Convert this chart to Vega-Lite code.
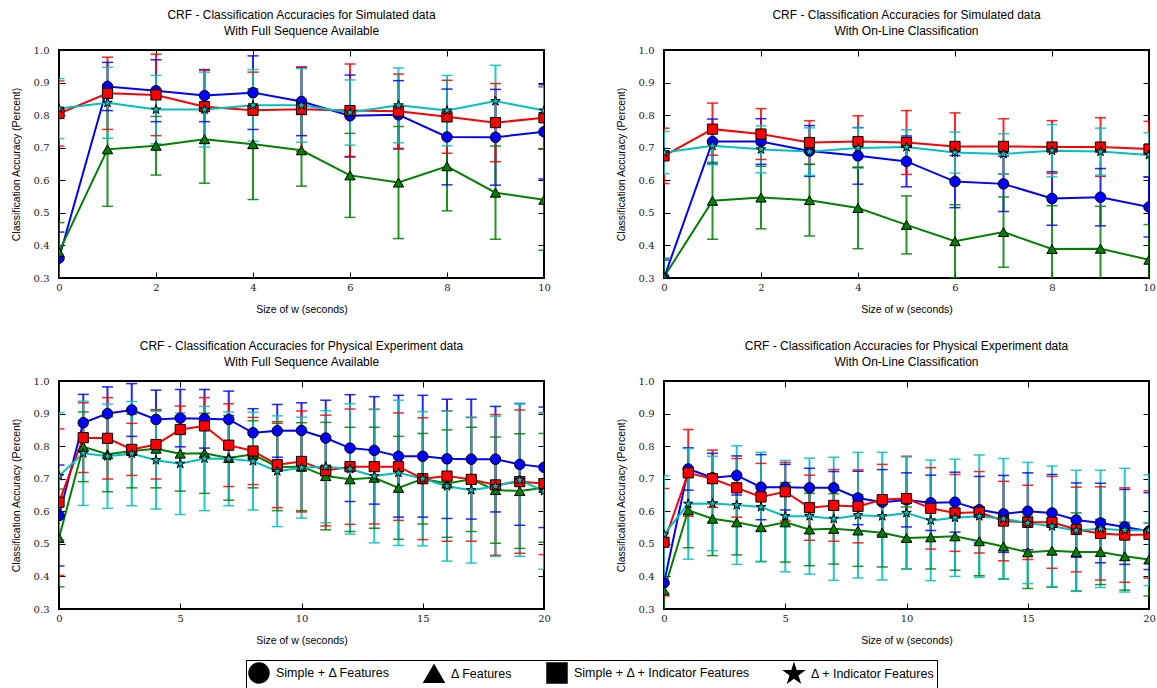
{
  "$schema": "https://vega.github.io/schema/vega-lite/v6.json",
  "padding": {"left": 10, "top": 8, "right": 5, "bottom": 1},
  "spacing": 23,
  "config": {
    "view": {"stroke": "black", "strokeWidth": 2},
    "axis": {"grid": false, "domain": false, "tickColor": "black", "tickSize": -6, "tickWidth": 1, "labelFont": "DejaVu Serif", "labelFontSize": 10, "labelColor": "#222", "labelFlush": false, "titleFont": "Liberation Sans", "titleFontSize": 10.5, "titleFontWeight": "normal", "titleColor": "black"},
    "axisX": {"labelPadding": 10, "titlePadding": 12},
    "axisY": {"labelPadding": 16, "titlePadding": 12},
    "title": {"font": "Liberation Sans", "fontSize": 12, "fontWeight": "normal", "color": "black", "offset": 7, "lineHeight": 16, "anchor": "middle"},
    "legend": {"labelFont": "Liberation Sans", "labelFontSize": 12.5, "labelColor": "black", "labelLimit": 400}
  },
  "datasets": {
    "acc": [
      {"p":1,"s":"a","x":0,"y":0.361,"lo":0.281,"hi":0.441},
      {"p":1,"s":"a","x":1,"y":0.888,"lo":0.814,"hi":0.962},
      {"p":1,"s":"a","x":2,"y":0.875,"lo":0.78,"hi":0.97},
      {"p":1,"s":"a","x":3,"y":0.86,"lo":0.78,"hi":0.94},
      {"p":1,"s":"a","x":4,"y":0.869,"lo":0.756,"hi":0.982},
      {"p":1,"s":"a","x":5,"y":0.842,"lo":0.737,"hi":0.947},
      {"p":1,"s":"a","x":6,"y":0.798,"lo":0.673,"hi":0.923},
      {"p":1,"s":"a","x":7,"y":0.801,"lo":0.696,"hi":0.906},
      {"p":1,"s":"a","x":8,"y":0.733,"lo":0.586,"hi":0.88},
      {"p":1,"s":"a","x":9,"y":0.732,"lo":0.585,"hi":0.879},
      {"p":1,"s":"a","x":10,"y":0.749,"lo":0.604,"hi":0.894},
      {"p":1,"s":"b","x":0,"y":0.38,"lo":0.29,"hi":0.47},
      {"p":1,"s":"b","x":1,"y":0.695,"lo":0.52,"hi":0.87},
      {"p":1,"s":"b","x":2,"y":0.706,"lo":0.616,"hi":0.796},
      {"p":1,"s":"b","x":3,"y":0.726,"lo":0.591,"hi":0.861},
      {"p":1,"s":"b","x":4,"y":0.711,"lo":0.541,"hi":0.881},
      {"p":1,"s":"b","x":5,"y":0.692,"lo":0.582,"hi":0.802},
      {"p":1,"s":"b","x":6,"y":0.615,"lo":0.486,"hi":0.744},
      {"p":1,"s":"b","x":7,"y":0.593,"lo":0.421,"hi":0.765},
      {"p":1,"s":"b","x":8,"y":0.643,"lo":0.506,"hi":0.78},
      {"p":1,"s":"b","x":9,"y":0.562,"lo":0.419,"hi":0.705},
      {"p":1,"s":"b","x":10,"y":0.54,"lo":0.385,"hi":0.695},
      {"p":1,"s":"c","x":0,"y":0.805,"lo":0.705,"hi":0.905},
      {"p":1,"s":"c","x":1,"y":0.867,"lo":0.756,"hi":0.978},
      {"p":1,"s":"c","x":2,"y":0.862,"lo":0.737,"hi":0.987},
      {"p":1,"s":"c","x":3,"y":0.826,"lo":0.714,"hi":0.938},
      {"p":1,"s":"c","x":4,"y":0.815,"lo":0.698,"hi":0.932},
      {"p":1,"s":"c","x":5,"y":0.818,"lo":0.688,"hi":0.948},
      {"p":1,"s":"c","x":6,"y":0.814,"lo":0.671,"hi":0.957},
      {"p":1,"s":"c","x":7,"y":0.812,"lo":0.698,"hi":0.926},
      {"p":1,"s":"c","x":8,"y":0.795,"lo":0.683,"hi":0.907},
      {"p":1,"s":"c","x":9,"y":0.777,"lo":0.657,"hi":0.897},
      {"p":1,"s":"c","x":10,"y":0.792,"lo":0.697,"hi":0.887},
      {"p":1,"s":"d","x":0,"y":0.82,"lo":0.728,"hi":0.912},
      {"p":1,"s":"d","x":1,"y":0.838,"lo":0.729,"hi":0.947},
      {"p":1,"s":"d","x":2,"y":0.817,"lo":0.712,"hi":0.922},
      {"p":1,"s":"d","x":3,"y":0.817,"lo":0.702,"hi":0.932},
      {"p":1,"s":"d","x":4,"y":0.83,"lo":0.72,"hi":0.94},
      {"p":1,"s":"d","x":5,"y":0.83,"lo":0.717,"hi":0.943},
      {"p":1,"s":"d","x":6,"y":0.808,"lo":0.708,"hi":0.908},
      {"p":1,"s":"d","x":7,"y":0.83,"lo":0.715,"hi":0.945},
      {"p":1,"s":"d","x":8,"y":0.814,"lo":0.706,"hi":0.922},
      {"p":1,"s":"d","x":9,"y":0.843,"lo":0.733,"hi":0.953},
      {"p":1,"s":"d","x":10,"y":0.814,"lo":0.739,"hi":0.889},

      {"p":2,"s":"a","x":0,"y":0.30,"lo":0.245,"hi":0.355},
      {"p":2,"s":"a","x":1,"y":0.719,"lo":0.65,"hi":0.788},
      {"p":2,"s":"a","x":2,"y":0.719,"lo":0.649,"hi":0.789},
      {"p":2,"s":"a","x":3,"y":0.69,"lo":0.612,"hi":0.768},
      {"p":2,"s":"a","x":4,"y":0.675,"lo":0.588,"hi":0.762},
      {"p":2,"s":"a","x":5,"y":0.658,"lo":0.58,"hi":0.736},
      {"p":2,"s":"a","x":6,"y":0.596,"lo":0.516,"hi":0.676},
      {"p":2,"s":"a","x":7,"y":0.589,"lo":0.504,"hi":0.674},
      {"p":2,"s":"a","x":8,"y":0.544,"lo":0.462,"hi":0.626},
      {"p":2,"s":"a","x":9,"y":0.548,"lo":0.46,"hi":0.636},
      {"p":2,"s":"a","x":10,"y":0.518,"lo":0.426,"hi":0.61},
      {"p":2,"s":"b","x":0,"y":0.303,"lo":0.245,"hi":0.361},
      {"p":2,"s":"b","x":1,"y":0.537,"lo":0.419,"hi":0.655},
      {"p":2,"s":"b","x":2,"y":0.547,"lo":0.451,"hi":0.643},
      {"p":2,"s":"b","x":3,"y":0.539,"lo":0.429,"hi":0.649},
      {"p":2,"s":"b","x":4,"y":0.515,"lo":0.39,"hi":0.64},
      {"p":2,"s":"b","x":5,"y":0.463,"lo":0.374,"hi":0.552},
      {"p":2,"s":"b","x":6,"y":0.413,"lo":0.301,"hi":0.525},
      {"p":2,"s":"b","x":7,"y":0.441,"lo":0.333,"hi":0.549},
      {"p":2,"s":"b","x":8,"y":0.389,"lo":0.256,"hi":0.522},
      {"p":2,"s":"b","x":9,"y":0.39,"lo":0.26,"hi":0.52},
      {"p":2,"s":"b","x":10,"y":0.356,"lo":0.248,"hi":0.464},
      {"p":2,"s":"c","x":0,"y":0.675,"lo":0.59,"hi":0.76},
      {"p":2,"s":"c","x":1,"y":0.757,"lo":0.677,"hi":0.837},
      {"p":2,"s":"c","x":2,"y":0.742,"lo":0.664,"hi":0.82},
      {"p":2,"s":"c","x":3,"y":0.716,"lo":0.649,"hi":0.783},
      {"p":2,"s":"c","x":4,"y":0.719,"lo":0.64,"hi":0.798},
      {"p":2,"s":"c","x":5,"y":0.716,"lo":0.618,"hi":0.814},
      {"p":2,"s":"c","x":6,"y":0.704,"lo":0.601,"hi":0.807},
      {"p":2,"s":"c","x":7,"y":0.704,"lo":0.619,"hi":0.789},
      {"p":2,"s":"c","x":8,"y":0.702,"lo":0.621,"hi":0.783},
      {"p":2,"s":"c","x":9,"y":0.702,"lo":0.612,"hi":0.792},
      {"p":2,"s":"c","x":10,"y":0.696,"lo":0.611,"hi":0.781},
      {"p":2,"s":"d","x":0,"y":0.685,"lo":0.62,"hi":0.75},
      {"p":2,"s":"d","x":1,"y":0.706,"lo":0.648,"hi":0.764},
      {"p":2,"s":"d","x":2,"y":0.695,"lo":0.623,"hi":0.767},
      {"p":2,"s":"d","x":3,"y":0.688,"lo":0.615,"hi":0.761},
      {"p":2,"s":"d","x":4,"y":0.699,"lo":0.637,"hi":0.761},
      {"p":2,"s":"d","x":5,"y":0.702,"lo":0.649,"hi":0.755},
      {"p":2,"s":"d","x":6,"y":0.685,"lo":0.622,"hi":0.748},
      {"p":2,"s":"d","x":7,"y":0.681,"lo":0.619,"hi":0.743},
      {"p":2,"s":"d","x":8,"y":0.691,"lo":0.611,"hi":0.771},
      {"p":2,"s":"d","x":9,"y":0.688,"lo":0.616,"hi":0.76},
      {"p":2,"s":"d","x":10,"y":0.678,"lo":0.61,"hi":0.746},

      {"p":3,"s":"a","x":0,"y":0.587,"lo":0.432,"hi":0.742},
      {"p":3,"s":"a","x":1,"y":0.872,"lo":0.785,"hi":0.959},
      {"p":3,"s":"a","x":2,"y":0.90,"lo":0.818,"hi":0.982},
      {"p":3,"s":"a","x":3,"y":0.911,"lo":0.83,"hi":0.992},
      {"p":3,"s":"a","x":4,"y":0.882,"lo":0.792,"hi":0.972},
      {"p":3,"s":"a","x":5,"y":0.886,"lo":0.798,"hi":0.974},
      {"p":3,"s":"a","x":6,"y":0.884,"lo":0.794,"hi":0.974},
      {"p":3,"s":"a","x":7,"y":0.882,"lo":0.795,"hi":0.969},
      {"p":3,"s":"a","x":8,"y":0.841,"lo":0.767,"hi":0.915},
      {"p":3,"s":"a","x":9,"y":0.847,"lo":0.766,"hi":0.928},
      {"p":3,"s":"a","x":10,"y":0.848,"lo":0.763,"hi":0.933},
      {"p":3,"s":"a","x":11,"y":0.825,"lo":0.709,"hi":0.941},
      {"p":3,"s":"a","x":12,"y":0.794,"lo":0.63,"hi":0.958},
      {"p":3,"s":"a","x":13,"y":0.787,"lo":0.622,"hi":0.952},
      {"p":3,"s":"a","x":14,"y":0.769,"lo":0.582,"hi":0.956},
      {"p":3,"s":"a","x":15,"y":0.769,"lo":0.582,"hi":0.956},
      {"p":3,"s":"a","x":16,"y":0.761,"lo":0.578,"hi":0.944},
      {"p":3,"s":"a","x":17,"y":0.76,"lo":0.576,"hi":0.944},
      {"p":3,"s":"a","x":18,"y":0.76,"lo":0.598,"hi":0.922},
      {"p":3,"s":"a","x":19,"y":0.744,"lo":0.557,"hi":0.931},
      {"p":3,"s":"a","x":20,"y":0.735,"lo":0.55,"hi":0.92},
      {"p":3,"s":"b","x":0,"y":0.518,"lo":0.368,"hi":0.668},
      {"p":3,"s":"b","x":1,"y":0.798,"lo":0.691,"hi":0.905},
      {"p":3,"s":"b","x":2,"y":0.775,"lo":0.66,"hi":0.89},
      {"p":3,"s":"b","x":3,"y":0.785,"lo":0.672,"hi":0.898},
      {"p":3,"s":"b","x":4,"y":0.792,"lo":0.672,"hi":0.912},
      {"p":3,"s":"b","x":5,"y":0.777,"lo":0.662,"hi":0.892},
      {"p":3,"s":"b","x":6,"y":0.778,"lo":0.655,"hi":0.901},
      {"p":3,"s":"b","x":7,"y":0.764,"lo":0.634,"hi":0.894},
      {"p":3,"s":"b","x":8,"y":0.775,"lo":0.672,"hi":0.878},
      {"p":3,"s":"b","x":9,"y":0.736,"lo":0.602,"hi":0.87},
      {"p":3,"s":"b","x":10,"y":0.737,"lo":0.602,"hi":0.872},
      {"p":3,"s":"b","x":11,"y":0.708,"lo":0.543,"hi":0.873},
      {"p":3,"s":"b","x":12,"y":0.698,"lo":0.538,"hi":0.858},
      {"p":3,"s":"b","x":13,"y":0.703,"lo":0.548,"hi":0.858},
      {"p":3,"s":"b","x":14,"y":0.672,"lo":0.514,"hi":0.83},
      {"p":3,"s":"b","x":15,"y":0.70,"lo":0.561,"hi":0.839},
      {"p":3,"s":"b","x":16,"y":0.685,"lo":0.52,"hi":0.85},
      {"p":3,"s":"b","x":17,"y":0.698,"lo":0.538,"hi":0.858},
      {"p":3,"s":"b","x":18,"y":0.665,"lo":0.502,"hi":0.828},
      {"p":3,"s":"b","x":19,"y":0.662,"lo":0.486,"hi":0.838},
      {"p":3,"s":"b","x":20,"y":0.672,"lo":0.505,"hi":0.839},
      {"p":3,"s":"c","x":0,"y":0.628,"lo":0.403,"hi":0.853},
      {"p":3,"s":"c","x":1,"y":0.826,"lo":0.719,"hi":0.933},
      {"p":3,"s":"c","x":2,"y":0.824,"lo":0.699,"hi":0.949},
      {"p":3,"s":"c","x":3,"y":0.79,"lo":0.71,"hi":0.87},
      {"p":3,"s":"c","x":4,"y":0.805,"lo":0.699,"hi":0.911},
      {"p":3,"s":"c","x":5,"y":0.851,"lo":0.779,"hi":0.923},
      {"p":3,"s":"c","x":6,"y":0.862,"lo":0.775,"hi":0.949},
      {"p":3,"s":"c","x":7,"y":0.803,"lo":0.676,"hi":0.93},
      {"p":3,"s":"c","x":8,"y":0.785,"lo":0.682,"hi":0.888},
      {"p":3,"s":"c","x":9,"y":0.743,"lo":0.611,"hi":0.875},
      {"p":3,"s":"c","x":10,"y":0.753,"lo":0.598,"hi":0.908},
      {"p":3,"s":"c","x":11,"y":0.725,"lo":0.555,"hi":0.895},
      {"p":3,"s":"c","x":12,"y":0.737,"lo":0.56,"hi":0.914},
      {"p":3,"s":"c","x":13,"y":0.737,"lo":0.561,"hi":0.913},
      {"p":3,"s":"c","x":14,"y":0.737,"lo":0.572,"hi":0.902},
      {"p":3,"s":"c","x":15,"y":0.70,"lo":0.513,"hi":0.887},
      {"p":3,"s":"c","x":16,"y":0.708,"lo":0.508,"hi":0.908},
      {"p":3,"s":"c","x":17,"y":0.698,"lo":0.508,"hi":0.888},
      {"p":3,"s":"c","x":18,"y":0.681,"lo":0.465,"hi":0.897},
      {"p":3,"s":"c","x":19,"y":0.691,"lo":0.471,"hi":0.911},
      {"p":3,"s":"c","x":20,"y":0.685,"lo":0.467,"hi":0.903},
      {"p":3,"s":"d","x":0,"y":0.708,"lo":0.513,"hi":0.903},
      {"p":3,"s":"d","x":1,"y":0.778,"lo":0.618,"hi":0.938},
      {"p":3,"s":"d","x":2,"y":0.769,"lo":0.609,"hi":0.929},
      {"p":3,"s":"d","x":3,"y":0.777,"lo":0.617,"hi":0.937},
      {"p":3,"s":"d","x":4,"y":0.757,"lo":0.607,"hi":0.907},
      {"p":3,"s":"d","x":5,"y":0.746,"lo":0.59,"hi":0.902},
      {"p":3,"s":"d","x":6,"y":0.762,"lo":0.602,"hi":0.922},
      {"p":3,"s":"d","x":7,"y":0.761,"lo":0.617,"hi":0.905},
      {"p":3,"s":"d","x":8,"y":0.754,"lo":0.604,"hi":0.904},
      {"p":3,"s":"d","x":9,"y":0.723,"lo":0.553,"hi":0.893},
      {"p":3,"s":"d","x":10,"y":0.734,"lo":0.579,"hi":0.889},
      {"p":3,"s":"d","x":11,"y":0.737,"lo":0.565,"hi":0.909},
      {"p":3,"s":"d","x":12,"y":0.73,"lo":0.53,"hi":0.93},
      {"p":3,"s":"d","x":13,"y":0.708,"lo":0.503,"hi":0.913},
      {"p":3,"s":"d","x":14,"y":0.718,"lo":0.495,"hi":0.941},
      {"p":3,"s":"d","x":15,"y":0.70,"lo":0.494,"hi":0.906},
      {"p":3,"s":"d","x":16,"y":0.677,"lo":0.447,"hi":0.907},
      {"p":3,"s":"d","x":17,"y":0.665,"lo":0.441,"hi":0.889},
      {"p":3,"s":"d","x":18,"y":0.677,"lo":0.462,"hi":0.892},
      {"p":3,"s":"d","x":19,"y":0.696,"lo":0.462,"hi":0.93},
      {"p":3,"s":"d","x":20,"y":0.662,"lo":0.422,"hi":0.902},

      {"p":4,"s":"a","x":0,"y":0.38,"lo":0.26,"hi":0.50},
      {"p":4,"s":"a","x":1,"y":0.73,"lo":0.665,"hi":0.795},
      {"p":4,"s":"a","x":2,"y":0.703,"lo":0.628,"hi":0.778},
      {"p":4,"s":"a","x":3,"y":0.71,"lo":0.65,"hi":0.77},
      {"p":4,"s":"a","x":4,"y":0.674,"lo":0.574,"hi":0.774},
      {"p":4,"s":"a","x":5,"y":0.674,"lo":0.604,"hi":0.744},
      {"p":4,"s":"a","x":6,"y":0.672,"lo":0.612,"hi":0.732},
      {"p":4,"s":"a","x":7,"y":0.672,"lo":0.622,"hi":0.722},
      {"p":4,"s":"a","x":8,"y":0.641,"lo":0.559,"hi":0.723},
      {"p":4,"s":"a","x":9,"y":0.628,"lo":0.528,"hi":0.728},
      {"p":4,"s":"a","x":10,"y":0.635,"lo":0.552,"hi":0.718},
      {"p":4,"s":"a","x":11,"y":0.626,"lo":0.541,"hi":0.711},
      {"p":4,"s":"a","x":12,"y":0.628,"lo":0.536,"hi":0.72},
      {"p":4,"s":"a","x":13,"y":0.605,"lo":0.503,"hi":0.707},
      {"p":4,"s":"a","x":14,"y":0.592,"lo":0.474,"hi":0.71},
      {"p":4,"s":"a","x":15,"y":0.60,"lo":0.482,"hi":0.718},
      {"p":4,"s":"a","x":16,"y":0.595,"lo":0.477,"hi":0.713},
      {"p":4,"s":"a","x":17,"y":0.573,"lo":0.459,"hi":0.687},
      {"p":4,"s":"a","x":18,"y":0.564,"lo":0.442,"hi":0.686},
      {"p":4,"s":"a","x":19,"y":0.552,"lo":0.437,"hi":0.667},
      {"p":4,"s":"a","x":20,"y":0.539,"lo":0.421,"hi":0.657},
      {"p":4,"s":"b","x":0,"y":0.357,"lo":0.207,"hi":0.507},
      {"p":4,"s":"b","x":1,"y":0.603,"lo":0.488,"hi":0.718},
      {"p":4,"s":"b","x":2,"y":0.577,"lo":0.464,"hi":0.69},
      {"p":4,"s":"b","x":3,"y":0.566,"lo":0.466,"hi":0.666},
      {"p":4,"s":"b","x":4,"y":0.551,"lo":0.446,"hi":0.656},
      {"p":4,"s":"b","x":5,"y":0.566,"lo":0.444,"hi":0.688},
      {"p":4,"s":"b","x":6,"y":0.544,"lo":0.433,"hi":0.655},
      {"p":4,"s":"b","x":7,"y":0.546,"lo":0.438,"hi":0.654},
      {"p":4,"s":"b","x":8,"y":0.541,"lo":0.431,"hi":0.651},
      {"p":4,"s":"b","x":9,"y":0.534,"lo":0.429,"hi":0.639},
      {"p":4,"s":"b","x":10,"y":0.518,"lo":0.423,"hi":0.613},
      {"p":4,"s":"b","x":11,"y":0.52,"lo":0.423,"hi":0.617},
      {"p":4,"s":"b","x":12,"y":0.523,"lo":0.419,"hi":0.627},
      {"p":4,"s":"b","x":13,"y":0.508,"lo":0.402,"hi":0.614},
      {"p":4,"s":"b","x":14,"y":0.492,"lo":0.392,"hi":0.592},
      {"p":4,"s":"b","x":15,"y":0.474,"lo":0.363,"hi":0.585},
      {"p":4,"s":"b","x":16,"y":0.479,"lo":0.367,"hi":0.591},
      {"p":4,"s":"b","x":17,"y":0.475,"lo":0.355,"hi":0.595},
      {"p":4,"s":"b","x":18,"y":0.475,"lo":0.375,"hi":0.575},
      {"p":4,"s":"b","x":19,"y":0.462,"lo":0.358,"hi":0.566},
      {"p":4,"s":"b","x":20,"y":0.452,"lo":0.34,"hi":0.564},
      {"p":4,"s":"c","x":0,"y":0.505,"lo":0.34,"hi":0.67},
      {"p":4,"s":"c","x":1,"y":0.718,"lo":0.585,"hi":0.851},
      {"p":4,"s":"c","x":2,"y":0.70,"lo":0.612,"hi":0.788},
      {"p":4,"s":"c","x":3,"y":0.672,"lo":0.582,"hi":0.762},
      {"p":4,"s":"c","x":4,"y":0.644,"lo":0.541,"hi":0.747},
      {"p":4,"s":"c","x":5,"y":0.66,"lo":0.57,"hi":0.75},
      {"p":4,"s":"c","x":6,"y":0.611,"lo":0.511,"hi":0.711},
      {"p":4,"s":"c","x":7,"y":0.618,"lo":0.508,"hi":0.728},
      {"p":4,"s":"c","x":8,"y":0.615,"lo":0.503,"hi":0.727},
      {"p":4,"s":"c","x":9,"y":0.636,"lo":0.528,"hi":0.744},
      {"p":4,"s":"c","x":10,"y":0.639,"lo":0.509,"hi":0.769},
      {"p":4,"s":"c","x":11,"y":0.609,"lo":0.484,"hi":0.734},
      {"p":4,"s":"c","x":12,"y":0.595,"lo":0.477,"hi":0.713},
      {"p":4,"s":"c","x":13,"y":0.597,"lo":0.472,"hi":0.722},
      {"p":4,"s":"c","x":14,"y":0.57,"lo":0.448,"hi":0.692},
      {"p":4,"s":"c","x":15,"y":0.566,"lo":0.452,"hi":0.68},
      {"p":4,"s":"c","x":16,"y":0.566,"lo":0.425,"hi":0.707},
      {"p":4,"s":"c","x":17,"y":0.544,"lo":0.414,"hi":0.674},
      {"p":4,"s":"c","x":18,"y":0.532,"lo":0.389,"hi":0.675},
      {"p":4,"s":"c","x":19,"y":0.527,"lo":0.382,"hi":0.672},
      {"p":4,"s":"c","x":20,"y":0.529,"lo":0.395,"hi":0.663},
      {"p":4,"s":"d","x":0,"y":0.529,"lo":0.349,"hi":0.709},
      {"p":4,"s":"d","x":1,"y":0.623,"lo":0.453,"hi":0.793},
      {"p":4,"s":"d","x":2,"y":0.624,"lo":0.479,"hi":0.769},
      {"p":4,"s":"d","x":3,"y":0.619,"lo":0.437,"hi":0.801},
      {"p":4,"s":"d","x":4,"y":0.613,"lo":0.445,"hi":0.781},
      {"p":4,"s":"d","x":5,"y":0.585,"lo":0.414,"hi":0.756},
      {"p":4,"s":"d","x":6,"y":0.585,"lo":0.407,"hi":0.763},
      {"p":4,"s":"d","x":7,"y":0.577,"lo":0.388,"hi":0.766},
      {"p":4,"s":"d","x":8,"y":0.588,"lo":0.395,"hi":0.781},
      {"p":4,"s":"d","x":9,"y":0.585,"lo":0.389,"hi":0.781},
      {"p":4,"s":"d","x":10,"y":0.595,"lo":0.423,"hi":0.767},
      {"p":4,"s":"d","x":11,"y":0.572,"lo":0.387,"hi":0.757},
      {"p":4,"s":"d","x":12,"y":0.58,"lo":0.40,"hi":0.76},
      {"p":4,"s":"d","x":13,"y":0.585,"lo":0.397,"hi":0.773},
      {"p":4,"s":"d","x":14,"y":0.577,"lo":0.392,"hi":0.762},
      {"p":4,"s":"d","x":15,"y":0.564,"lo":0.378,"hi":0.75},
      {"p":4,"s":"d","x":16,"y":0.554,"lo":0.369,"hi":0.739},
      {"p":4,"s":"d","x":17,"y":0.541,"lo":0.356,"hi":0.726},
      {"p":4,"s":"d","x":18,"y":0.546,"lo":0.366,"hi":0.726},
      {"p":4,"s":"d","x":19,"y":0.542,"lo":0.352,"hi":0.732},
      {"p":4,"s":"d","x":20,"y":0.542,"lo":0.372,"hi":0.712}
    ]
  },
  "vconcat": [
    {
      "spacing": 63,
      "hconcat": [
        {
          "title": {"text": ["CRF - Classification Accuracies for Simulated data", "With Full Sequence Available"]},
          "width": 485, "height": 228,
          "data": {"name": "acc"},
          "transform": [{"filter": "datum.p == 1"}],
          "resolve": {"axis": {"x": "independent", "y": "independent"}},
          "layer": [
            {"mark": {"type": "rule", "strokeWidth": 2, "opacity": 0.85, "clip": true},
             "encoding": {
               "x": {"field": "x", "type": "quantitative", "scale": {"domain": [0, 10], "nice": false}, "axis": {"orient": "bottom", "values": [0, 2, 4, 6, 8, 10], "title": "Size of w (seconds)"}},
               "y": {"field": "lo", "type": "quantitative", "scale": {"domain": [0.3, 1.0], "nice": false, "zero": false}, "axis": {"orient": "left", "values": [0.3, 0.4, 0.5, 0.6, 0.7, 0.8, 0.9, 1.0], "format": ".1f", "title": "Classification Accuracy (Percent)"}},
               "y2": {"field": "hi"},
               "color": {"field": "s", "type": "nominal", "scale": {"domain": ["a", "b", "c", "d"], "range": ["#0000ff", "#008000", "#ff0000", "#00bfbf"]}, "legend": null}
             }},
            {"mark": {"type": "tick", "orient": "horizontal", "size": 11, "thickness": 1.5, "opacity": 0.85, "clip": true},
             "encoding": {
               "x": {"field": "x", "type": "quantitative", "axis": {"orient": "top", "values": [0, 2, 4, 6, 8, 10], "labels": false, "title": null}},
               "y": {"field": "lo", "type": "quantitative", "axis": {"orient": "right", "values": [0.3, 0.4, 0.5, 0.6, 0.7, 0.8, 0.9, 1.0], "labels": false, "title": null}},
               "color": {"field": "s", "type": "nominal", "legend": null}
             }},
            {"mark": {"type": "tick", "orient": "horizontal", "size": 11, "thickness": 1.5, "opacity": 0.85, "clip": true},
             "encoding": {
               "x": {"field": "x", "type": "quantitative", "axis": null},
               "y": {"field": "hi", "type": "quantitative", "axis": null},
               "color": {"field": "s", "type": "nominal", "legend": null}
             }},
            {"mark": {"type": "line", "strokeWidth": 2, "clip": true},
             "encoding": {
               "x": {"field": "x", "type": "quantitative", "axis": null},
               "y": {"field": "y", "type": "quantitative", "axis": null},
               "color": {"field": "s", "type": "nominal", "legend": null}
             }},
            {"mark": {"type": "point", "filled": true, "stroke": "black", "strokeWidth": 1, "opacity": 1, "clip": true},
             "encoding": {
               "x": {"field": "x", "type": "quantitative", "axis": null},
               "y": {"field": "y", "type": "quantitative", "axis": null},
               "fill": {"field": "s", "type": "nominal", "scale": {"domain": ["a", "b", "c", "d"], "range": ["#0000ff", "#008000", "#ff0000", "#00bfbf"]}, "legend": null},
               "size": {"field": "s", "type": "nominal", "scale": {"domain": ["a", "b", "c", "d"], "range": [110, 100, 85, 85]}, "legend": null},
               "shape": {"field": "s", "type": "nominal", "scale": {"range": ["circle", "triangle-up", "square", "M0,-1L0.225,-0.309L0.951,-0.309L0.363,0.118L0.588,0.809L0,0.382L-0.588,0.809L-0.363,0.118L-0.951,-0.309L-0.225,-0.309Z"]},
                 "legend": {"title": null, "orient": "none", "legendX": 187, "legendY": 610, "direction": "horizontal", "symbolSize": 400, "columnPadding": 31, "labelOffset": 6, "padding": 2, "strokeColor": "black",
                   "labelExpr": "datum.label == 'a' ? 'Simple + Δ Features' : datum.label == 'b' ? 'Δ Features' : datum.label == 'c' ? 'Simple + Δ + Indicator Features' : 'Δ + Indicator Features'",
                   "encode": {
                     "legend": {"strokeWidth": {"value": 1.5}},
                     "symbols": {
                       "fill": {"value": {"expr": "datum.value == 'a' ? '#0000ff' : datum.value == 'b' ? '#008000' : datum.value == 'c' ? '#ff0000' : '#00bfbf'"}},
                       "stroke": {"value": "black"}, "strokeWidth": {"value": 1}, "opacity": {"value": 1}, "fillOpacity": {"value": 1},
                       "shape": {"value": {"expr": "datum.value == 'a' ? 'M-1,0A0.45,0.45 0 1,0 -0.1,0A0.45,0.45 0 1,0 -1,0ZM0.1,0A0.45,0.45 0 1,0 1,0A0.45,0.45 0 1,0 0.1,0ZM-0.15,-0.1H0.15V0.1H-0.15Z' : datum.value == 'b' ? 'M-1,0.39L-0.55,-0.45L-0.1,0.39ZM0.1,0.39L0.55,-0.45L1,0.39ZM-0.15,0.04H0.15V0.2H-0.15Z' : datum.value == 'c' ? 'M-1,-0.42H-0.15V0.42H-1ZM0.15,-0.42H1V0.42H0.15ZM-0.2,-0.1H0.2V0.1H-0.2Z' : 'M-0.58,-0.42L-0.486,-0.129L-0.181,-0.13L-0.428,0.049L-0.333,0.34L-0.58,0.16L-0.827,0.34L-0.732,0.049L-0.979,-0.13L-0.674,-0.129ZM0.58,-0.42L0.674,-0.129L0.979,-0.13L0.732,0.049L0.827,0.34L0.58,0.16L0.333,0.34L0.428,0.049L0.181,-0.13L0.486,-0.129ZM-0.2,-0.06H0.2V0.06H-0.2Z'"}}
                     }
                   }}}
             }}
          ]
        },
        {
          "title": {"text": ["CRF - Classification Accuracies for Simulated data", "With On-Line Classification"]},
          "width": 485, "height": 228,
          "data": {"name": "acc"},
          "transform": [{"filter": "datum.p == 2"}],
          "resolve": {"axis": {"x": "independent", "y": "independent"}},
          "layer": [
            {"mark": {"type": "rule", "strokeWidth": 2, "opacity": 0.85, "clip": true},
             "encoding": {
               "x": {"field": "x", "type": "quantitative", "scale": {"domain": [0, 10], "nice": false}, "axis": {"orient": "bottom", "values": [0, 2, 4, 6, 8, 10], "title": "Size of w (seconds)"}},
               "y": {"field": "lo", "type": "quantitative", "scale": {"domain": [0.3, 1.0], "nice": false, "zero": false}, "axis": {"orient": "left", "values": [0.3, 0.4, 0.5, 0.6, 0.7, 0.8, 0.9, 1.0], "format": ".1f", "title": "Classification Accuracy (Percent)"}},
               "y2": {"field": "hi"},
               "color": {"field": "s", "type": "nominal", "legend": null}
             }},
            {"mark": {"type": "tick", "orient": "horizontal", "size": 11, "thickness": 1.5, "opacity": 0.85, "clip": true},
             "encoding": {
               "x": {"field": "x", "type": "quantitative", "axis": {"orient": "top", "values": [0, 2, 4, 6, 8, 10], "labels": false, "title": null}},
               "y": {"field": "lo", "type": "quantitative", "axis": {"orient": "right", "values": [0.3, 0.4, 0.5, 0.6, 0.7, 0.8, 0.9, 1.0], "labels": false, "title": null}},
               "color": {"field": "s", "type": "nominal", "legend": null}
             }},
            {"mark": {"type": "tick", "orient": "horizontal", "size": 11, "thickness": 1.5, "opacity": 0.85, "clip": true},
             "encoding": {
               "x": {"field": "x", "type": "quantitative", "axis": null},
               "y": {"field": "hi", "type": "quantitative", "axis": null},
               "color": {"field": "s", "type": "nominal", "legend": null}
             }},
            {"mark": {"type": "line", "strokeWidth": 2, "clip": true},
             "encoding": {
               "x": {"field": "x", "type": "quantitative", "axis": null},
               "y": {"field": "y", "type": "quantitative", "axis": null},
               "color": {"field": "s", "type": "nominal", "legend": null}
             }},
            {"mark": {"type": "point", "filled": true, "stroke": "black", "strokeWidth": 1, "opacity": 1, "clip": true},
             "encoding": {
               "x": {"field": "x", "type": "quantitative", "axis": null},
               "y": {"field": "y", "type": "quantitative", "axis": null},
               "fill": {"field": "s", "type": "nominal", "legend": null},
               "size": {"field": "s", "type": "nominal", "legend": null},
               "shape": {"field": "s", "type": "nominal"}
             }}
          ]
        }
      ]
    },
    {
      "spacing": 63,
      "hconcat": [
        {
          "title": {"text": ["CRF - Classification Accuracies for Physical Experiment data", "With Full Sequence Available"]},
          "width": 485, "height": 228,
          "data": {"name": "acc"},
          "transform": [{"filter": "datum.p == 3"}],
          "resolve": {"axis": {"x": "independent", "y": "independent"}},
          "layer": [
            {"mark": {"type": "rule", "strokeWidth": 2, "opacity": 0.85, "clip": true},
             "encoding": {
               "x": {"field": "x", "type": "quantitative", "scale": {"domain": [0, 20], "nice": false}, "axis": {"orient": "bottom", "values": [0, 5, 10, 15, 20], "title": "Size of w (seconds)"}},
               "y": {"field": "lo", "type": "quantitative", "scale": {"domain": [0.3, 1.0], "nice": false, "zero": false}, "axis": {"orient": "left", "values": [0.3, 0.4, 0.5, 0.6, 0.7, 0.8, 0.9, 1.0], "format": ".1f", "title": "Classification Accuracy (Percent)"}},
               "y2": {"field": "hi"},
               "color": {"field": "s", "type": "nominal", "legend": null}
             }},
            {"mark": {"type": "tick", "orient": "horizontal", "size": 11, "thickness": 1.5, "opacity": 0.85, "clip": true},
             "encoding": {
               "x": {"field": "x", "type": "quantitative", "axis": {"orient": "top", "values": [0, 5, 10, 15, 20], "labels": false, "title": null}},
               "y": {"field": "lo", "type": "quantitative", "axis": {"orient": "right", "values": [0.3, 0.4, 0.5, 0.6, 0.7, 0.8, 0.9, 1.0], "labels": false, "title": null}},
               "color": {"field": "s", "type": "nominal", "legend": null}
             }},
            {"mark": {"type": "tick", "orient": "horizontal", "size": 11, "thickness": 1.5, "opacity": 0.85, "clip": true},
             "encoding": {
               "x": {"field": "x", "type": "quantitative", "axis": null},
               "y": {"field": "hi", "type": "quantitative", "axis": null},
               "color": {"field": "s", "type": "nominal", "legend": null}
             }},
            {"mark": {"type": "line", "strokeWidth": 2, "clip": true},
             "encoding": {
               "x": {"field": "x", "type": "quantitative", "axis": null},
               "y": {"field": "y", "type": "quantitative", "axis": null},
               "color": {"field": "s", "type": "nominal", "legend": null}
             }},
            {"mark": {"type": "point", "filled": true, "stroke": "black", "strokeWidth": 1, "opacity": 1, "clip": true},
             "encoding": {
               "x": {"field": "x", "type": "quantitative", "axis": null},
               "y": {"field": "y", "type": "quantitative", "axis": null},
               "fill": {"field": "s", "type": "nominal", "legend": null},
               "size": {"field": "s", "type": "nominal", "legend": null},
               "shape": {"field": "s", "type": "nominal"}
             }}
          ]
        },
        {
          "title": {"text": ["CRF - Classification Accuracies for Physical Experiment data", "With On-Line Classification"]},
          "width": 485, "height": 228,
          "data": {"name": "acc"},
          "transform": [{"filter": "datum.p == 4"}],
          "resolve": {"axis": {"x": "independent", "y": "independent"}},
          "layer": [
            {"mark": {"type": "rule", "strokeWidth": 2, "opacity": 0.85, "clip": true},
             "encoding": {
               "x": {"field": "x", "type": "quantitative", "scale": {"domain": [0, 20], "nice": false}, "axis": {"orient": "bottom", "values": [0, 5, 10, 15, 20], "title": "Size of w (seconds)"}},
               "y": {"field": "lo", "type": "quantitative", "scale": {"domain": [0.3, 1.0], "nice": false, "zero": false}, "axis": {"orient": "left", "values": [0.3, 0.4, 0.5, 0.6, 0.7, 0.8, 0.9, 1.0], "format": ".1f", "title": "Classification Accuracy (Percent)"}},
               "y2": {"field": "hi"},
               "color": {"field": "s", "type": "nominal", "legend": null}
             }},
            {"mark": {"type": "tick", "orient": "horizontal", "size": 11, "thickness": 1.5, "opacity": 0.85, "clip": true},
             "encoding": {
               "x": {"field": "x", "type": "quantitative", "axis": {"orient": "top", "values": [0, 5, 10, 15, 20], "labels": false, "title": null}},
               "y": {"field": "lo", "type": "quantitative", "axis": {"orient": "right", "values": [0.3, 0.4, 0.5, 0.6, 0.7, 0.8, 0.9, 1.0], "labels": false, "title": null}},
               "color": {"field": "s", "type": "nominal", "legend": null}
             }},
            {"mark": {"type": "tick", "orient": "horizontal", "size": 11, "thickness": 1.5, "opacity": 0.85, "clip": true},
             "encoding": {
               "x": {"field": "x", "type": "quantitative", "axis": null},
               "y": {"field": "hi", "type": "quantitative", "axis": null},
               "color": {"field": "s", "type": "nominal", "legend": null}
             }},
            {"mark": {"type": "line", "strokeWidth": 2, "clip": true},
             "encoding": {
               "x": {"field": "x", "type": "quantitative", "axis": null},
               "y": {"field": "y", "type": "quantitative", "axis": null},
               "color": {"field": "s", "type": "nominal", "legend": null}
             }},
            {"mark": {"type": "point", "filled": true, "stroke": "black", "strokeWidth": 1, "opacity": 1, "clip": true},
             "encoding": {
               "x": {"field": "x", "type": "quantitative", "axis": null},
               "y": {"field": "y", "type": "quantitative", "axis": null},
               "fill": {"field": "s", "type": "nominal", "legend": null},
               "size": {"field": "s", "type": "nominal", "legend": null},
               "shape": {"field": "s", "type": "nominal"}
             }}
          ]
        }
      ]
    }
  ]
}
